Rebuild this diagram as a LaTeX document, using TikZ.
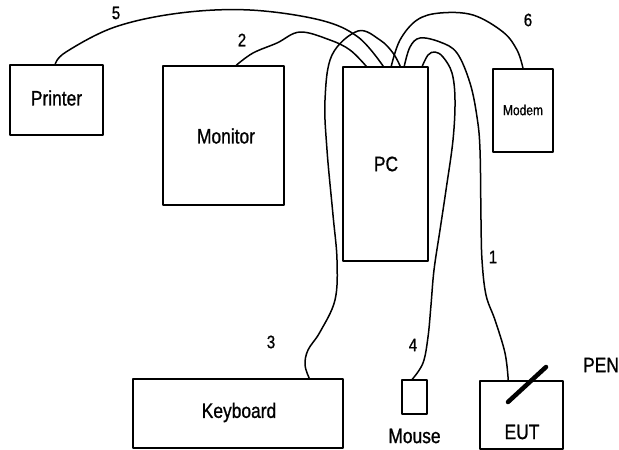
\documentclass[tikz,border=0pt]{standalone}
\usepackage{fontspec}
\setmainfont{Liberation Sans}[FakeBold=1.0]
\usepackage{graphicx}
\newcommand{\tallt}[1]{\scalebox{1}[1.2]{#1}}
\begin{document}
\begin{tikzpicture}[x=1pt,y=-1pt,line join=round,
  box/.style={draw,line width=1.5pt,rectangle,inner sep=0pt},
  lbl/.style={font=\fontsize{17.4}{20}\selectfont,inner sep=0pt},
  num/.style={font=\fontsize{15}{18}\selectfont,inner sep=0pt},
  cable/.style={line width=1.5pt}]
\useasboundingbox (0,0) rectangle (619,450);
% boxes
\node[box,minimum width=93pt,minimum height=70pt] (printer) at (56.5,100) {};
\node[lbl] (printertxt) at (56.5,98) {\tallt{Printer}};
\node[box,minimum width=121pt,minimum height=139pt] (monitor) at (223.5,135.5) {};
\node[lbl] (monitortxt) at (226,136) {\tallt{Monitor}};
\node[box,minimum width=85pt,minimum height=194pt] (pc) at (385.5,164) {};
\node[lbl] (pctxt) at (386,164) {\tallt{PC}};
\node[box,minimum width=60pt,minimum height=83pt] (modem) at (523,110.5) {};
\node[lbl,font=\fontsize{12}{14}\selectfont] (modemtxt) at (523,110) {\tallt{Modem}};
\node[box,minimum width=210pt,minimum height=69pt] (keyboard) at (238,413.5) {};
\node[lbl] (keyboardtxt) at (239,412.5) {\tallt{Keyboard}};
\node[box,minimum width=25pt,minimum height=34pt] (mouse) at (414.5,397) {};
\node[lbl] (mousetxt) at (414.5,436) {\tallt{Mouse}};
\node[box,minimum width=83pt,minimum height=68pt] (eut) at (521.5,415) {};
\node[lbl] (euttxt) at (522,432) {\tallt{EUT}};
\node[lbl] (pentxt) at (601,365) {\tallt{PEN}};
% pen
\coordinate (pena) at (508,402);
\coordinate (penb) at (546,367);
\draw[line width=4.5pt,line cap=round] (pena) -- (penb);
% numbers
\node[num] (n5) at (116,13) {\tallt{5}};
\node[num] (n2) at (242,40) {\tallt{2}};
\node[num] (n6) at (528,20) {\tallt{6}};
\node[num] (n3) at (271,342) {\tallt{3}};
\node[num] (n4) at (413,345) {\tallt{4}};
\node[num] (n1) at (493,257) {\tallt{1}};
% cable end points
\coordinate (pr5) at ([xshift=46pt]printer.north west);
\coordinate (mon2) at ([xshift=74pt]monitor.north west);
\coordinate (pc2) at ([xshift=24pt]pc.north west);
\coordinate (pc5) at ([xshift=41pt]pc.north west);
\coordinate (pc6) at ([xshift=49pt]pc.north west);
\coordinate (pc3) at ([xshift=58pt]pc.north west);
\coordinate (pc1) at ([xshift=62pt]pc.north west);
\coordinate (pc4) at ([xshift=80pt]pc.north west);
\coordinate (mod6) at (modem.north);
\coordinate (kb3) at ([xshift=177pt]keyboard.north west);
\coordinate (mo4) at ([xshift=11pt]mouse.north west);
\coordinate (eut1) at ([xshift=29pt]eut.north west);
% cables
\draw[cable] plot[smooth,tension=0.6] coordinates {(pr5) (66,52) (115,27) (180,13) (250,10) (320,20) (358,37) (pc5)};
\draw[cable] plot[smooth,tension=0.6] coordinates {(mon2) (253,53) (277,43) (300,32) (330,40) (350,50) (pc2)};
\draw[cable] plot[smooth,tension=0.6] coordinates {(kb3) (305,365) (308,350) (320,332) (335,300) (337,260) (333,215) (327,150) (325,100) (332,55) (358,31) (380,40) (393,53) (pc3)};
\draw[cable] plot[smooth,tension=0.6] coordinates {(pc6) (400,40) (417,20) (440,13) (473,15) (503,32) (517,50) (mod6)};
\draw[cable] plot[smooth,tension=0.6] coordinates {(pc1) (410,47) (420,38) (440,42) (457,53) (470,83) (477,117) (480,150) (481,220) (482,260) (486,295) (495,320) (505,353) (eut1)};
\draw[cable] plot[smooth,tension=0.6] coordinates {(pc4) (428,55) (435,52) (443,57) (452,73) (455,100) (453,140) (446,190) (440,230) (434,270) (431,305) (428,337) (423,363) (mo4)};
\end{tikzpicture}
\end{document}
